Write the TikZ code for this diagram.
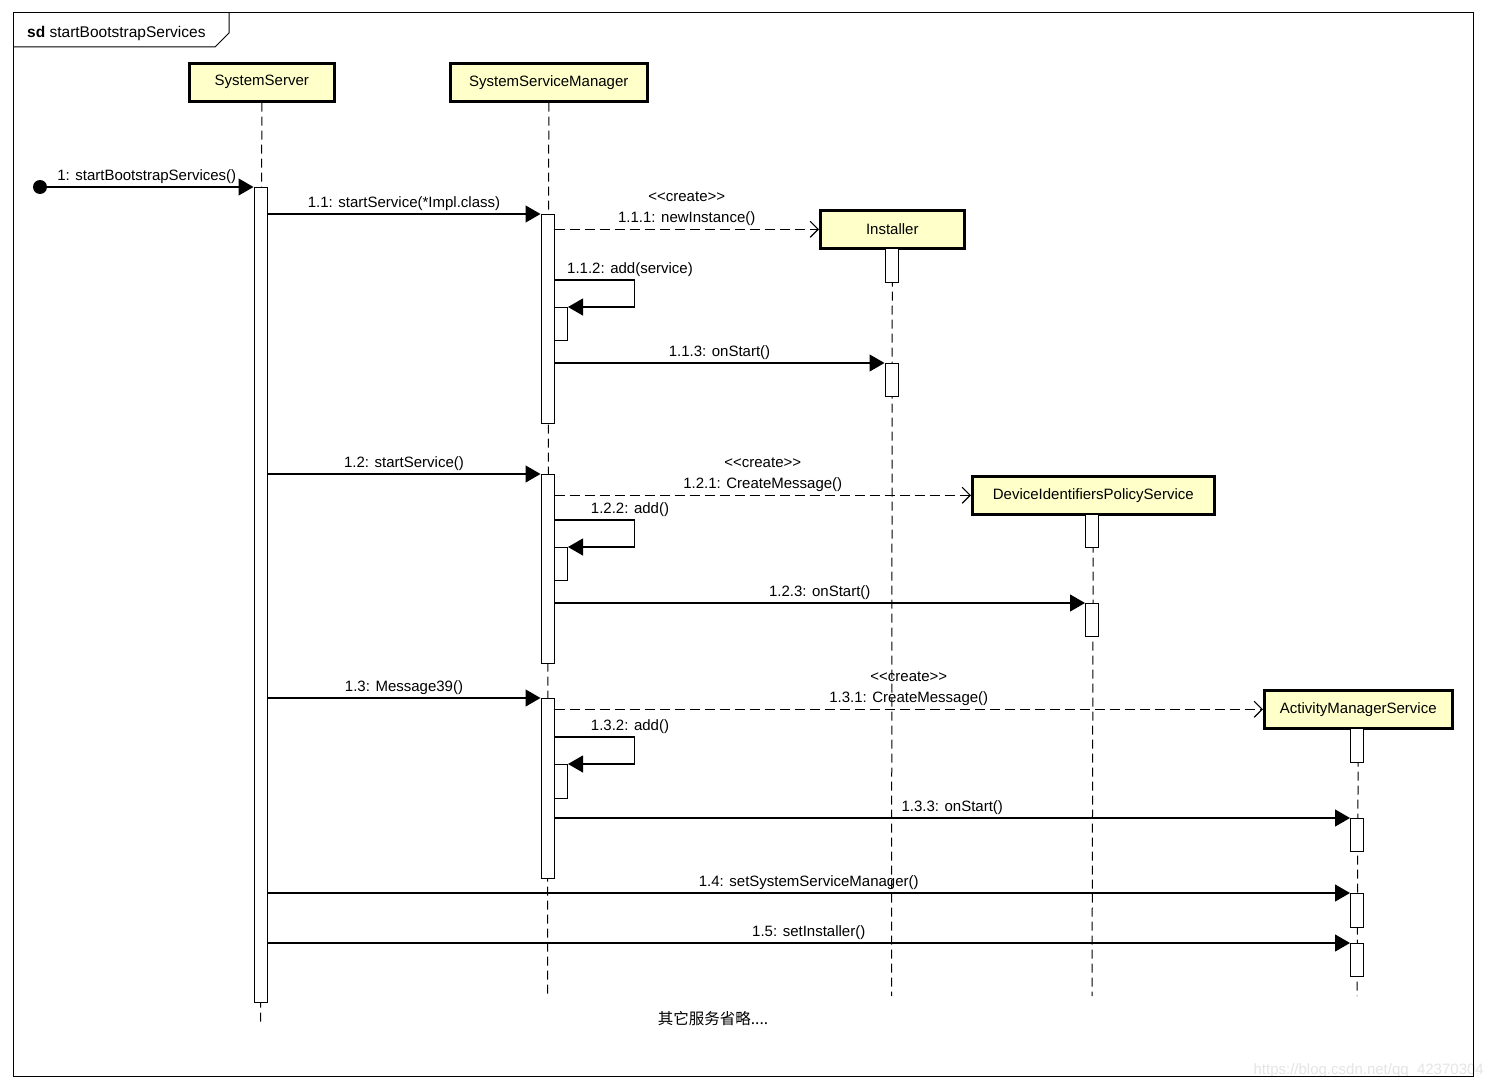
\documentclass[tikz,border=0pt]{standalone}
\usepackage{fontspec}
\setmainfont{Liberation Sans}
\newfontfamily\cjk{Noto Sans CJK SC}
\usetikzlibrary{arrows.meta}
\definecolor{headfill}{RGB}{255,255,202}
\begin{document}
\begin{tikzpicture}[x=1pt,y=-1pt,
 font=\fontsize{15}{18}\selectfont,
 head/.style={draw, line width=2.6pt, fill=headfill, minimum height=38pt, inner sep=0, anchor=north west},
 act/.style={draw, fill=white, line width=1pt, minimum width=13pt, inner sep=0, anchor=north},
 life/.style={line width=1pt, dash pattern=on 9pt off 5pt},
 msg/.style={line width=1.2pt, -{Triangle[length=15pt,width=17pt]}},
 crt/.style={line width=1.2pt, dash pattern=on 10pt off 5pt, -{Straight Barb[length=8pt,width=16pt]}},
 lbl/.style={anchor=base, inner sep=0, yshift=7pt},
 lbltop/.style={anchor=base, inner sep=0, yshift=28pt},
 ]
\fill[white] (0,0) rectangle (1486,1089);
\useasboundingbox (0,0) rectangle (1486,1089);
% watermark
\node[text=black!10, anchor=east, inner sep=0, font=\fontsize{15}{17}\selectfont] (wm) at (1484,1071) {https://blog.csdn.net/qq\_42370304};
% frame
\draw[line width=1pt] (13,13) rectangle (1473,1076);
\draw[line width=1pt] (13,47) -- (215,47) -- (229,33) -- (229,13);
\node[anchor=west, inner sep=0, font=\fontsize{15.5}{18}\selectfont] (title) at (27,33) {\textbf{sd} startBootstrapServices};

% heads
\node[head, minimum width=145pt] (ss) at (188,62) {SystemServer};
\node[head, minimum width=197pt] (ssm) at (449,62) {SystemServiceManager};
\node[head, minimum width=144pt] (inst) at (819,209) {Installer};
\node[head, minimum width=242pt] (dips) at (971,475) {DeviceIdentifiersPolicyService};
\node[head, minimum width=188pt] (ams) at (1263,689) {ActivityManagerService};

% lifeline ends
\coordinate (ssE) at (260.5,1022);
\coordinate (ssmE) at (547.5,996);
\coordinate (instE) at (891.5,996);
\coordinate (dipsE) at (1092,996);
\coordinate (amsE) at (1357,996);
\draw[life] (ss.south) -- (ssE);
\draw[life] (ssm.south) -- (ssmE);
\draw[life] (inst.south) -- (instE);
\draw[life] (dips.south) -- (dipsE);
\draw[life] (ams.south) -- (amsE);

% activations
\node[act, minimum height=815pt] (ssA) at (260.5,187) {};
\node[act, minimum height=209pt] (ssmA1) at (547.5,214) {};
\node[act, minimum height=33pt] (self1) at (561,307) {};
\node[act, minimum height=34pt] (instC) at (891.5,248) {};
\node[act, minimum height=33pt] (instA) at (891.5,363) {};
\node[act, minimum height=189pt] (ssmA2) at (547.5,474) {};
\node[act, minimum height=33pt] (self2) at (561,547) {};
\node[act, minimum height=33pt] (dipsC) at (1092,514) {};
\node[act, minimum height=33pt] (dipsA) at (1092,603) {};
\node[act, minimum height=180pt] (ssmA3) at (547.5,698) {};
\node[act, minimum height=34pt] (self3) at (561,764) {};
\node[act, minimum height=34pt] (amsC) at (1357,728) {};
\node[act, minimum height=33pt] (amsA1) at (1357,818) {};
\node[act, minimum height=34pt] (amsA2) at (1357,893) {};
\node[act, minimum height=33pt] (amsA3) at (1357,943) {};

% start
\fill (40,187) circle (7);
\coordinate (start) at (40,187);
\draw[msg] (start) -- node[lbl] {1: startBootstrapServices()} (ssA.north west);

% 1.1
\draw[msg] (ssA.east |- ssmA1.north) -- node[lbl] {1.1: startService(*Impl.class)} (ssmA1.north west);
\draw[crt] (ssmA1.east |- inst.west) -- node[lbl] {1.1.1: newInstance()} node[lbltop] {<\kern0pt<create>\kern0pt>} (inst.west);
\draw[msg] (ssmA1.east |- 0,280) -- ++(80,0) |- (self1.north east);
\node[lbl] (l112) at (630,280) {1.1.2: add(service)};
\draw[msg] (ssmA1.east |- instA.north) -- node[lbl] {1.1.3: onStart()} (instA.north west);

% 1.2
\draw[msg] (ssA.east |- ssmA2.north) -- node[lbl] {1.2: startService()} (ssmA2.north west);
\draw[crt] (ssmA2.east |- dips.west) -- node[lbl] {1.2.1: CreateMessage()} node[lbltop] {<\kern0pt<create>\kern0pt>} (dips.west);
\draw[msg] (ssmA2.east |- 0,520) -- ++(80,0) |- (self2.north east);
\node[lbl] (l122) at (630,520) {1.2.2: add()};
\draw[msg] (ssmA2.east |- dipsA.north) -- node[lbl] {1.2.3: onStart()} (dipsA.north west);

% 1.3
\draw[msg] (ssA.east |- ssmA3.north) -- node[lbl] {1.3: Message39()} (ssmA3.north west);
\draw[crt] (ssmA3.east |- ams.west) -- node[lbl] {1.3.1: CreateMessage()} node[lbltop] {<\kern0pt<create>\kern0pt>} (ams.west);
\draw[msg] (ssmA3.east |- 0,737) -- ++(80,0) |- (self3.north east);
\node[lbl] (l132) at (630,737) {1.3.2: add()};
\draw[msg] (ssmA3.east |- amsA1.north) -- node[lbl] {1.3.3: onStart()} (amsA1.north west);

% 1.4, 1.5
\draw[msg] (ssA.east |- amsA2.north) -- node[lbl] {1.4: setSystemServiceManager()} (amsA2.north west);
\draw[msg] (ssA.east |- amsA3.north) -- node[lbl] {1.5: setInstaller()} (amsA3.north west);

\node[inner sep=0] (note) at (713,1019) {\cjk\fontsize{15.5}{18}\selectfont 其它服务省略....};
\end{tikzpicture}
\end{document}
